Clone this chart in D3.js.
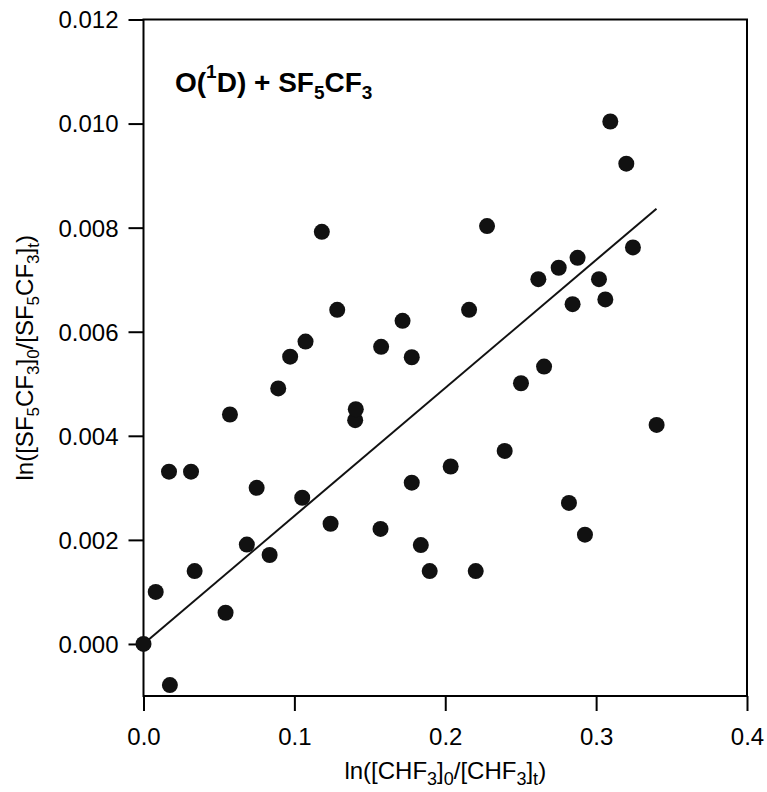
<!DOCTYPE html>
<html lang="en">
<head>
  <meta charset="UTF-8">
  <title>O(1D) + SF5CF3 relative rate plot</title>
  <script src="https://d3js.org/d3.v7.min.js"></script>
  <style>
    body { margin: 0; background: #fff; }
    svg { display: block; font-family: "Liberation Sans", Arial, sans-serif; }
    .axis path, .axis line { stroke: #000; stroke-width: 2px; }
    .axis text { font-size: 24px; fill: #000; }
    .dot { fill: #111; }
  </style>
</head>
<body>
<svg width="767" height="792"></svg>

<script>
  // values
  const xVals = [0.0000, 0.0081, 0.0175, 0.0169, 0.0315, 0.0339, 0.0544, 0.0573, 0.0685, 0.0750,
                 0.0836, 0.0893, 0.0972, 0.1052, 0.1074, 0.1182, 0.1240, 0.1284, 0.1403, 0.1407,
                 0.1571, 0.1575, 0.1717, 0.1778, 0.1778, 0.1838, 0.1897, 0.2036, 0.2158, 0.2202,
                 0.2277, 0.2394, 0.2502, 0.2617, 0.2655, 0.2752, 0.2820, 0.2844, 0.2877, 0.2926,
                 0.3019, 0.3061, 0.3094, 0.3200, 0.3244, 0.3401];
  const yVals = [0.00000, 0.00100, -0.00079, 0.00331, 0.00331, 0.00140, 0.00060, 0.00441, 0.00191, 0.00300,
                 0.00171, 0.00491, 0.00552, 0.00281, 0.00581, 0.00792, 0.00231, 0.00642, 0.00430, 0.00451,
                 0.00221, 0.00571, 0.00621, 0.00551, 0.00310, 0.00190, 0.00140, 0.00341, 0.00642, 0.00140,
                 0.00803, 0.00371, 0.00501, 0.00701, 0.00533, 0.00723, 0.00271, 0.00653, 0.00742, 0.00210,
                 0.00701, 0.00662, 0.01004, 0.00923, 0.00762, 0.00421];

  // fitted straight line
  const fitSlope = 0.0246;
  const fitIntercept = 0;
  const fitRange = [0, 0.34];

  const xTicks = [0, 0.1, 0.2, 0.3, 0.4];
  const yTicks = [0, 0.002, 0.004, 0.006, 0.008, 0.010, 0.012];

  const svg = d3.select("svg");
  const plotL = 143.5, plotR = 747, plotT = 19.5, plotB = 696;

  const x = d3.scaleLinear().domain([0, 0.4]).range([plotL, plotR]);
  const y = d3.scaleLinear().domain([-0.001, 0.012]).range([plotB, plotT]);

  // frame
  svg.append("rect")
    .attr("x", plotL).attr("y", plotT)
    .attr("width", plotR - plotL).attr("height", plotB - plotT)
    .attr("fill", "none").attr("stroke", "#000").attr("stroke-width", 2);

  const xAxis = svg.append("g")
    .attr("class", "axis")
    .attr("transform", `translate(0,${plotB})`)
    .call(d3.axisBottom(x).tickValues(xTicks).tickFormat(d3.format(".1f"))
      .tickSize(15).tickSizeOuter(0).tickPadding(17));
  xAxis.select(".domain").remove();

  const yAxis = svg.append("g")
    .attr("class", "axis")
    .attr("transform", `translate(${plotL},0)`)
    .call(d3.axisLeft(y).tickValues(yTicks).tickFormat(d3.format(".3f"))
      .tickSize(15).tickSizeOuter(0).tickPadding(10));
  yAxis.select(".domain").remove();
  yAxis.selectAll("text").attr("dy", "0.35em");

  // fit line
  const line = d3.line().x(d => x(d)).y(d => y(fitSlope * d + fitIntercept));
  svg.append("path")
    .datum(fitRange)
    .attr("d", line)
    .attr("fill", "none")
    .attr("stroke", "#111")
    .attr("stroke-width", 2);

  // points
  svg.append("g").selectAll("circle")
    .data(xVals.map((v, i) => [v, yVals[i]]))
    .join("circle")
    .attr("class", "dot")
    .attr("cx", d => x(d[0]))
    .attr("cy", d => y(d[1]))
    .attr("r", 8);

  // in-plot label
  const title = svg.append("text")
    .attr("x", 175).attr("y", 92)
    .attr("font-size", 28).attr("font-weight", "bold");
  title.append("tspan").text("O(");
  title.append("tspan").attr("font-size", 19).attr("dy", -14).text("1");
  title.append("tspan").attr("dy", 14).text("D) + SF");
  title.append("tspan").attr("font-size", 19).attr("dy", 7).text("5");
  title.append("tspan").attr("dy", -7).text("CF");
  title.append("tspan").attr("font-size", 19).attr("dy", 7).text("3");

  // axis titles
  const xTitle = svg.append("text")
    .attr("x", (plotL + plotR) / 2).attr("y", 779)
    .attr("text-anchor", "middle").attr("font-size", 24);
  xTitle.append("tspan").text("ln([CHF");
  xTitle.append("tspan").attr("font-size", 18).attr("dy", 6).text("3");
  xTitle.append("tspan").attr("dy", -6).text("]");
  xTitle.append("tspan").attr("font-size", 18).attr("dy", 6).text("0");
  xTitle.append("tspan").attr("dy", -6).text("/[CHF");
  xTitle.append("tspan").attr("font-size", 18).attr("dy", 6).text("3");
  xTitle.append("tspan").attr("dy", -6).text("]");
  xTitle.append("tspan").attr("font-size", 18).attr("dy", 6).text("t");
  xTitle.append("tspan").attr("dy", -6).text(")");

  const yTitle = svg.append("text")
    .attr("transform", `translate(33,${(plotT + plotB) / 2}) rotate(-90)`)
    .attr("text-anchor", "middle").attr("font-size", 24);
  yTitle.append("tspan").text("ln([SF");
  yTitle.append("tspan").attr("font-size", 17).attr("dy", 6).text("5");
  yTitle.append("tspan").attr("dy", -6).text("CF");
  yTitle.append("tspan").attr("font-size", 17).attr("dy", 6).text("3");
  yTitle.append("tspan").attr("dy", -6).text("]");
  yTitle.append("tspan").attr("font-size", 17).attr("dy", 6).text("0");
  yTitle.append("tspan").attr("dy", -6).text("/[SF");
  yTitle.append("tspan").attr("font-size", 17).attr("dy", 6).text("5");
  yTitle.append("tspan").attr("dy", -6).text("CF");
  yTitle.append("tspan").attr("font-size", 17).attr("dy", 6).text("3");
  yTitle.append("tspan").attr("dy", -6).text("]");
  yTitle.append("tspan").attr("font-size", 17).attr("dy", 6).text("t");
  yTitle.append("tspan").attr("dy", -6).text(")");
</script>
</body>
</html>
